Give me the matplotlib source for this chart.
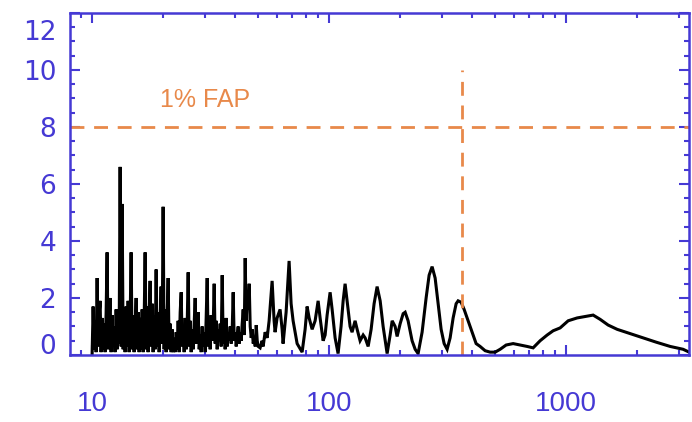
import numpy as np
import matplotlib
matplotlib.use("Agg")
import matplotlib.pyplot as plt
from matplotlib.ticker import FixedLocator, LogLocator, NullFormatter
from matplotlib.transforms import ScaledTranslation

# periodogram: period (days) and power
period = [
    10.00, 10.10, 10.20, 10.30, 10.40, 10.50, 10.60, 10.70, 10.81, 10.91,
    11.02, 11.13, 11.24, 11.35, 11.46, 11.57, 11.68, 11.80, 11.91, 12.03,
    12.14, 12.26, 12.38, 12.50, 12.63, 12.75, 12.87, 13.00, 13.13, 13.26,
    13.39, 13.52, 13.65, 13.78, 13.92, 14.05, 14.19, 14.33, 14.47, 14.61,
    14.75, 14.90, 15.04, 15.19, 15.34, 15.49, 15.64, 15.79, 15.95, 16.10,
    16.26, 16.42, 16.58, 16.74, 16.90, 17.07, 17.23, 17.40, 17.57, 17.74,
    17.92, 18.09, 18.27, 18.45, 18.63, 18.81, 18.99, 19.18, 19.37, 19.55,
    19.74, 19.94, 20.13, 20.33, 20.53, 20.73, 20.93, 21.14, 21.34, 21.55,
    21.76, 21.98, 22.19, 22.41, 22.63, 22.85, 23.07, 23.30, 23.53, 23.76,
    23.99, 24.22, 24.46, 24.70, 24.94, 25.18, 25.43, 25.68, 25.93, 26.18,
    26.44, 26.70, 26.96, 27.22, 27.49, 27.76, 28.03, 28.30, 28.58, 28.86,
    29.14, 29.42, 29.71, 30.00, 30.29, 30.59, 30.89, 31.19, 31.49, 31.80,
    32.11, 32.42, 32.74, 33.06, 33.38, 33.71, 34.04, 34.37, 34.71, 35.04,
    35.39, 35.73, 36.08, 36.43, 36.79, 37.15, 37.51, 37.88, 38.25, 38.62,
    39.00, 39.38, 39.77, 40.15, 40.55, 40.94, 41.34, 41.75, 42.15, 42.57,
    42.98, 43.40, 43.83, 44.25, 44.69, 45.12, 45.57, 46.01, 46.46, 46.92,
    47.37, 47.84, 48.31, 48.78, 49.26, 49.74, 50.22,
    51.15, 52.17, 52.68, 53.70, 54.76, 55.83, 57.48, 58.60, 59.17, 60.33,
    62.11, 63.34, 63.95, 65.85, 67.79, 69.13, 70.48, 71.86, 73.28, 76.93,
    79.20, 80.77, 82.35, 84.79, 87.29, 89.87, 91.62, 94.34, 96.19, 98.08,
    100.97, 102.97, 106.0, 109.1, 112.3, 114.6, 116.8, 119.1, 122.6, 125.0,
    128.7, 131.3, 135.1, 139.2, 141.9, 146.1, 150.4, 154.8, 159.4, 164.2,
    169.0, 175.7, 180.9, 184.5, 189.9, 193.6, 199.4, 205.3, 209.3, 215.4,
    223.9, 230.7, 237.4, 246.8, 256.6, 264.2, 272.0, 280.1, 288.4, 296.9,
    305.7, 314.7, 324.0, 333.6, 343.5, 350.2, 360.6, 371.2, 385.9, 401.2,
    417.1, 433.6, 455.2, 477.9, 501.8, 526.7, 558.3, 597.5, 639.6, 684.6,
    725.7, 776.8, 831.6, 881.5, 943.4, 1020, 1113, 1203, 1300, 1392,
    1504, 1642, 1862, 2113, 2398, 2747, 3116, 3304,
]
power = [
    0.0, 1.7, 0.2, 1.2, 0.1, 2.7, 0.3, 1.4, 1.9, 0.1,
    1.3, 0.2, 1.1, 0.1, 1.5, 3.6, 0.2, 1.2, 2.0, 0.1,
    1.4, 0.3, 1.0, 0.1, 1.6, 0.2, 1.2, 0.4, 6.6, 0.3,
    5.3, 0.2, 1.4, 0.1, 1.7, 0.3, 1.9, 0.1, 1.2, 3.6,
    0.2, 1.4, 0.1, 1.1, 2.0, 0.2, 1.5, 0.1, 1.3, 0.2,
    1.6, 0.1, 1.2, 3.6, 0.2, 1.7, 0.1, 1.3, 2.6, 0.3,
    1.8, 0.1, 1.4, 0.2, 3.0, 0.3, 1.5, 0.1, 1.2, 2.4,
    0.4, 5.2, 0.2, 1.6, 0.1, 1.3, 2.7, 0.2, 1.1, 0.1,
    0.9, 0.1, 0.6, 0.1, 0.8, 0.2, 1.2, 0.1, 1.5, 2.2,
    0.3, 1.0, 0.1, 1.3, 0.2, 1.0, 2.9, 0.3, 1.2, 0.1,
    0.9, 0.2, 1.1, 2.0, 0.4, 0.9, 1.5, 0.2, 0.7, 0.1,
    1.0, 0.3, 0.8, 0.1, 1.3, 2.7, 0.3, 1.1, 0.2, 1.4,
    0.5, 1.0, 2.5, 0.4, 1.2, 0.2, 0.9, 0.6, 1.1, 0.3,
    2.8, 0.4, 1.0, 0.2, 1.3, 0.3, 0.8, 0.5, 1.0, 0.4,
    0.9, 2.2, 0.5, 0.8, 0.3, 0.7, 1.0, 0.4, 0.8, 0.5,
    1.1, 1.6, 0.7, 3.4, 1.2, 2.0, 1.6, 2.5, 1.0, 0.6,
    0.9, 0.4, 0.6, 0.3, 1.05, 0.5, 0.3,
    0.25, 0.5, 0.3, 0.8, 0.6, 1.2, 2.6, 1.2, 0.8, 1.3,
    1.6, 0.9, 0.4, 1.5, 3.3, 1.8, 1.2, 0.8, 0.4, 0.1,
    0.9, 1.7, 1.3, 0.9, 1.2, 1.9, 1.3, 0.5, 0.7, 1.4,
    2.2, 1.6, 0.6, 0.05, 1.0, 1.9, 2.5, 1.9, 1.0, 0.8,
    1.2, 0.9, 0.5, 0.7, 0.6, 0.3, 0.9, 1.8, 2.4, 1.9,
    1.0, 0.05, 0.7, 1.2, 1.0, 0.65, 1.1, 1.45, 1.5, 1.2,
    0.5, 0.2, 0.05, 0.8, 2.0, 2.8, 3.1, 2.7, 1.8, 0.9,
    0.4, 0.2, 0.6, 1.3, 1.8, 1.9, 1.85, 1.6, 1.2, 0.8,
    0.4, 0.3, 0.15, 0.1, 0.1, 0.2, 0.35, 0.4, 0.35, 0.3,
    0.25, 0.5, 0.7, 0.85, 0.95, 1.2, 1.3, 1.35, 1.4, 1.25,
    1.05, 0.9, 0.75, 0.6, 0.45, 0.3, 0.2, 0.1,
]

fap_level = 8.0
year_line = 365.0
fap_label = "1% FAP"
y_ticks = [0, 2, 4, 6, 8, 10, 12]
x_ticks = [10, 100, 1000]

blue = "#4539d4"
orange = "#e8894a"

plt.rcParams["font.family"] = ["Liberation Sans", "DejaVu Sans"]

fig = plt.figure(figsize=(6.92, 4.22), dpi=100)
ax = fig.add_axes([0.1012, 0.1588, 0.8945, 0.8104])

ax.plot(period, power, color="black", lw=2.2, solid_joinstyle="miter")
ax.axhline(fap_level, color=orange, lw=2.0, dashes=(5, 3.5))
ax.plot([year_line, year_line], [0, 10], color=orange, lw=2.0, dashes=(5, 3.5))
ax.text(19.4, 8.95, fap_label, color=orange, fontsize=18, va="center", ha="left")

ax.set_xscale("log")
ax.set_xlim(8.07, 3300)
ax.set_ylim(0, 12)

ax.xaxis.set_major_locator(FixedLocator(x_ticks))
ax.set_xticklabels([str(v) for v in x_ticks], fontsize=20,
                   family=["Liberation Sans Narrow", "Liberation Sans"])
ax.xaxis.set_minor_locator(LogLocator(base=10, subs=np.arange(2, 10)))
ax.xaxis.set_minor_formatter(NullFormatter())
ax.yaxis.set_major_locator(FixedLocator(y_ticks))
ax.set_yticklabels([str(v) for v in y_ticks], fontsize=19, family="DejaVu Sans")
ax.yaxis.set_minor_locator(FixedLocator(np.arange(0, 12.01, 0.5)))

for s in ax.spines.values():
    s.set_color(blue)
    s.set_linewidth(1.8)

ax.tick_params(which="both", direction="in", top=True, right=True,
               color=blue, labelcolor=blue, width=1.5)
ax.tick_params(which="major", length=7)
ax.tick_params(which="minor", length=3.5)
ax.tick_params(axis="x", which="major", pad=26)
ax.tick_params(axis="y", which="major", pad=10)

# IDL nudges the end labels inward
labels = ax.get_yticklabels()
labels[0].set_transform(labels[0].get_transform() + ScaledTranslation(0, 11 / 100, fig.dpi_scale_trans))
labels[-1].set_transform(labels[-1].get_transform() + ScaledTranslation(0, -17 / 100, fig.dpi_scale_trans))

fig.savefig("out.png", dpi=100)
